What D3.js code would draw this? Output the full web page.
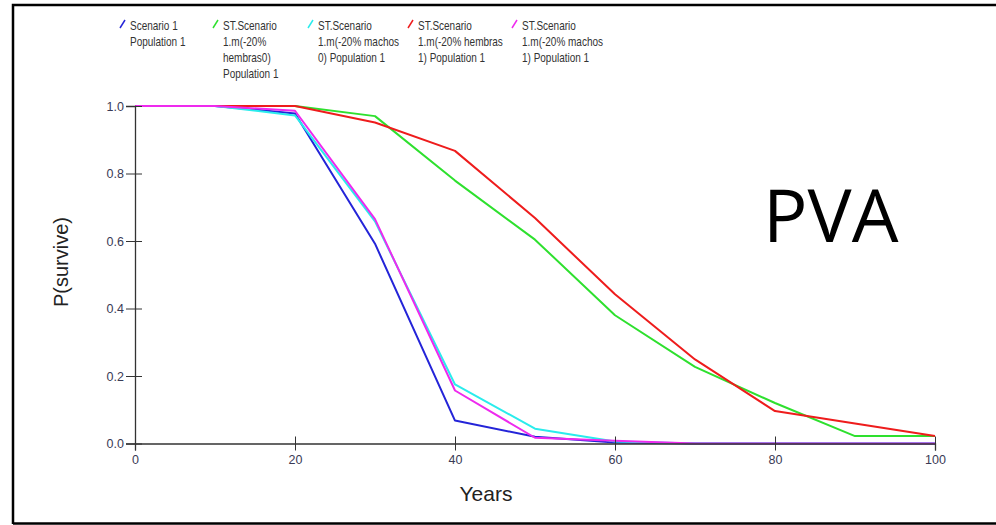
<!DOCTYPE html>
<html>
<head>
<meta charset="utf-8">
<script src="https://cdn.jsdelivr.net/npm/d3@7"></script>
<style>
  body { margin: 0; background: #fff; }
  svg { display: block; }
</style>
</head>
<body>
<div id="chart-area"></div>
<script>
// survival curves, one value per 10 years
const years = [0, 10, 20, 30, 40, 50, 60, 70, 80, 90, 100]
const scenario1 = [1, 1, 0.978, 0.592, 0.068, 0.02, 0.003, 0, 0, 0, 0]
const hembras0 = [1, 1, 1.0, 0.970, 0.779, 0.604, 0.380, 0.227, 0.120, 0.022, 0.022]
const machos0 = [1, 1, 0.972, 0.658, 0.175, 0.044, 0.006, 0, 0, 0, 0]
const hembras1 = [1, 1, 1.0, 0.951, 0.867, 0.668, 0.442, 0.249, 0.096, 0.059, 0.022]
const machos1 = [1, 1, 0.986, 0.665, 0.157, 0.017, 0.008, 0, 0, 0, 0]

const seriesNames = [
  ["Scenario 1", "Population 1"],
  ["ST.Scenario", "1.m(-20%", "hembras0)", "Population 1"],
  ["ST.Scenario", "1.m(-20% machos", "0) Population 1"],
  ["ST.Scenario", "1.m(-20% hembras", "1) Population 1"],
  ["ST.Scenario", "1.m(-20% machos", "1) Population 1"]
]
const seriesValues = [scenario1, hembras0, machos0, hembras1, machos1]
const seriesColors = ["#2424d8", "#2ee02e", "#2aecec", "#ee1c1c", "#ee2aee"]
const legendX = [130, 223, 318, 418, 522]

const xTicks = [0, 20, 40, 60, 80, 100]
const yTicks = [0, 0.2, 0.4, 0.6, 0.8, 1.0]

const W = 996, H = 525

const svg = d3.select("#chart-area").append("svg")
  .attr("width", W)
  .attr("height", H)

// frame
svg.append("path")
  .attr("d", `M13,524 L13,5 L996,5`)
  .attr("fill", "none")
  .attr("stroke", "#000")
  .attr("stroke-width", 2.5)
svg.append("line")
  .attr("x1", 13).attr("x2", W)
  .attr("y1", 523.5).attr("y2", 523.5)
  .attr("stroke", "#000")
  .attr("stroke-width", 2.5)

// Scales
const x = d3.scaleLinear().domain([0, 100]).range([135, 935])
const y = d3.scaleLinear().domain([0, 1]).range([443.5, 106])

// Lines
const line = d3.line()
  .x((d, i) => x(years[i]))
  .y(d => y(d))

seriesValues.forEach((vals, i) => {
  svg.append("path")
    .datum(vals)
    .attr("fill", "none")
    .attr("stroke", seriesColors[i])
    .attr("stroke-width", 2)
    .attr("stroke-linejoin", "round")
    .attr("d", line)
})

// X Axis
const xAxis = svg.append("g")
  .attr("transform", `translate(0, ${y(0)})`)
  .call(d3.axisBottom(x).tickValues(xTicks).tickFormat(d3.format("d")).tickSizeOuter(0).tickSize(7))
xAxis.selectAll(".tick line").attr("y1", -7).attr("stroke", "#333")
xAxis.select(".domain").attr("stroke", "#333").attr("stroke-width", 1.3)
xAxis.selectAll(".tick text")
  .attr("y", 12)
  .attr("fill", "#3a3a55")
  .style("font", "12.5px 'Liberation Sans', Arial, sans-serif")

// Y Axis
const yAxis = svg.append("g")
  .attr("transform", `translate(${x(0)}, 0)`)
  .call(d3.axisLeft(y).tickValues(yTicks).tickFormat(d3.format(".1f")).tickSizeOuter(0).tickSize(9))
yAxis.selectAll(".tick line").attr("x1", 7).attr("stroke", "#333")
yAxis.select(".domain").attr("stroke", "#333").attr("stroke-width", 1.3)
yAxis.selectAll(".tick text")
  .attr("x", -11)
  .attr("fill", "#3a3a55")
  .style("font", "12.5px 'Liberation Sans', Arial, sans-serif")

// Axis titles
svg.append("text")
  .attr("x", 486)
  .attr("y", 501)
  .attr("text-anchor", "middle")
  .style("font", "21px 'Liberation Sans', Arial, sans-serif")
  .attr("fill", "#222")
  .text("Years")
svg.append("text")
  .attr("transform", "translate(68, 262) rotate(-90)")
  .attr("text-anchor", "middle")
  .style("font", "20px 'Liberation Sans', Arial, sans-serif")
  .attr("fill", "#222")
  .text("P(survive)")

// big label
svg.append("text")
  .attr("x", 763)
  .attr("y", 242)
  .style("font", "74px 'Open Sans', sans-serif")
  .attr("fill", "#000")
  .text("PVA")

// Legend
seriesNames.forEach((lines, i) => {
  const row = svg.append("g")
  row.append("line")
    .attr("x1", legendX[i] - 10).attr("y1", 28)
    .attr("x2", legendX[i] - 5).attr("y2", 20)
    .attr("stroke", seriesColors[i])
    .attr("stroke-width", 1.5)
  lines.forEach((t, j) => {
    row.append("text")
      .attr("transform", `translate(${legendX[i]}, ${29.5 + j * 16.3}) scale(0.8, 1)`)
      .style("font", "12.5px 'Liberation Sans', Arial, sans-serif")
      .attr("fill", "#333")
      .text(t)
  })
})
</script>
</body>
</html>
